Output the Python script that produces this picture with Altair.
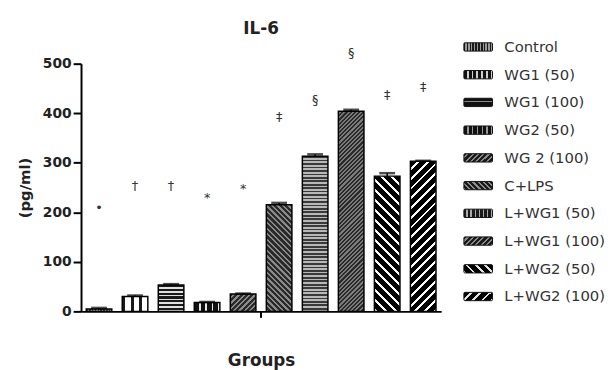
import math
import altair as alt
import pandas as pd

groups = ["Control", "WG1 (50)", "WG1 (100)", "WG2 (50)", "WG 2 (100)",
          "C+LPS", "L+WG1 (50)", "L+WG1 (100)", "L+WG2 (50)", "L+WG2 (100)"]
means = [5, 30, 53, 18, 35, 215, 313, 404, 273, 303]
errors = [2, 2, 2, 1, 1, 4, 4, 3, 6, 1]
symbols = ["•", "†", "†", "*", "*", "‡", "§", "§", "‡", "‡"]
symbol_y = [209, 253, 253, 229, 247, 392, 426, 522, 436, 452]
y_ticks = [0, 100, 200, 300, 400, 500]

W, H = 365, 251
YMAX = 500
P_IN = 0.29
STEP = W / 10
BAR_W = STEP * (1 - P_IN)
FONT = "DejaVu Sans"

# pattern look for bars: kind, ink colour, ground colour, period (px), ink fraction
patterns = [
    ("v", "#3a3a3a", "#9a9a9a", 3, 0.5),
    ("v", "#1a1a1a", "#ffffff", 8, 0.35),
    ("h", "#1a1a1a", "#e0e0e0", 4, 0.6),
    ("v", "#111111", "#e8e8e8", 6, 0.7),
    ("fs", "#2a2a2a", "#8a8a8a", 4, 0.55),
    ("bs", "#2a2a2a", "#8a8a8a", 4, 0.55),
    ("h", "#3a3a3a", "#b8b8b8", 3.5, 0.5),
    ("fs", "#2a2a2a", "#7a7a7a", 3, 0.5),
    ("bs", "#000000", "#ffffff", 7, 0.7),
    ("fs", "#000000", "#ffffff", 7, 0.7),
]
# legend swatch look (mostly dark with light marks)
leg_patterns = [
    ("v", "#1a1a1a", "#9a9a9a", 3, 0.5),
    ("v", "#111111", "#d0d0d0", 5, 0.6),
    ("h", "#111111", "#8a8a8a", 4, 0.75),
    ("v", "#111111", "#9a9a9a", 5, 0.7),
    ("fs", "#1a1a1a", "#8a8a8a", 4, 0.6),
    ("bs", "#1a1a1a", "#8a8a8a", 4, 0.6),
    ("v", "#1a1a1a", "#aaaaaa", 4, 0.6),
    ("fs", "#1a1a1a", "#8a8a8a", 4, 0.6),
    ("bs", "#000000", "#e0e0e0", 7, 0.7),
    ("fs", "#000000", "#e0e0e0", 7, 0.7),
]


def stripe_gradient(kind, a, b, period, frac, w, h):
    if kind == "h":
        x1, y1, x2, y2 = 0, 0, 0, 1
        extent = h
    elif kind == "v":
        x1, y1, x2, y2 = 0, 0, 1, 0
        extent = w
    else:
        u0 = w / h
        d = 1 + u0 * u0
        k = (1 + u0) / d
        if kind == "fs":
            x1, y1, x2, y2 = 0, 0, k * u0, k
        else:
            x1, y1, x2, y2 = 1, 0, 1 - k * u0, k
        extent = (w + h) / math.sqrt(2)
    n = max(1, round(extent / period))
    stops = []
    for i in range(n):
        o0 = i / n
        o1 = (i + frac) / n
        o2 = (i + 1) / n
        stops += [alt.GradientStop(offset=o0, color=a),
                  alt.GradientStop(offset=o1, color=a),
                  alt.GradientStop(offset=o1, color=b),
                  alt.GradientStop(offset=o2, color=b)]
    return alt.LinearGradient(gradient="linear", stops=stops,
                              x1=x1, y1=y1, x2=x2, y2=y2)


df = pd.DataFrame({"group": groups, "mean": means, "err": errors,
                   "sym": symbols, "sym_y": symbol_y})
df["hi"] = df["mean"] + df["err"]

x_axis = alt.Axis(title="Groups", labels=False, ticks=False, domain=True,
                  domainColor="black", domainWidth=2,
                  titleFont=FONT, titleFontSize=17, titleFontWeight="bold",
                  titleColor="#222", titlePadding=42)
x_enc = alt.X("group:N", sort=groups,
              scale=alt.Scale(domain=groups, paddingInner=P_IN, paddingOuter=P_IN / 2),
              axis=x_axis)
y_axis = alt.Axis(title="(pg/ml)", values=y_ticks, grid=False,
                  domainColor="black", domainWidth=2, tickColor="black",
                  tickWidth=2, tickSize=8, labelPadding=2,
                  labelFont=FONT, labelFontSize=14, labelFontWeight="bold",
                  labelColor="#222", titleFont=FONT, titleFontSize=15,
                  titleFontWeight="bold", titleColor="#222", titlePadding=10)
y_scale = alt.Scale(domain=[0, YMAX], nice=False)

base = alt.Chart(df)
layers = []
for i, g in enumerate(groups):
    kind, a, b, p, f = patterns[i]
    grad = stripe_gradient(kind, a, b, p, f, BAR_W, max(means[i] * H / YMAX, 1))
    layers.append(
        base.transform_filter(alt.datum.group == g)
        .mark_bar(fill=grad, stroke="black", strokeWidth=1.5)
        .encode(x=x_enc, y=alt.Y("mean:Q", scale=y_scale, axis=y_axis))
    )

err_rule = base.mark_rule(color="black", strokeWidth=1.5).encode(
    x=x_enc, y=alt.Y("mean:Q", scale=y_scale, axis=y_axis), y2="hi:Q")
err_cap = base.mark_tick(color="black", thickness=2.5, size=16).encode(
    x=x_enc, y=alt.Y("hi:Q", scale=y_scale, axis=y_axis))
sym_text = base.mark_text(font=FONT, fontSize=13, color="#333",
                          baseline="middle").encode(
    x=x_enc, y=alt.Y("sym_y:Q", scale=y_scale, axis=y_axis), text="sym:N")
center_tick = base.mark_rule(color="black", strokeWidth=1.5).encode(
    x=alt.value(W / 2), y=alt.value(H), y2=alt.value(H + 6))

main = alt.layer(*layers, err_rule, err_cap, sym_text, center_tick)

# legend, drawn as layers with their own row scale
SW, SH = 29, 8.5
LX = W + 23
leg_df = pd.DataFrame({"group": groups})
ly = alt.Y("group:N", sort=groups,
           scale=alt.Scale(domain=groups, range=[-31, 250],
                           paddingInner=0.7, paddingOuter=0.35),
           axis=None)
leg_layers = []
for i, g in enumerate(groups):
    kind, a, b, p, f = leg_patterns[i]
    grad = stripe_gradient(kind, a, b, p, f, SW, SH)
    leg_layers.append(
        alt.Chart(leg_df).transform_filter(alt.datum.group == g)
        .mark_rect(fill=grad, stroke="#111", strokeWidth=1, cornerRadius=1)
        .encode(x=alt.value(LX), x2=alt.value(LX + SW), y=ly)
    )
leg_text = alt.Chart(leg_df).mark_text(
    align="left", baseline="middle", font=FONT, fontSize=15, color="#333"
).encode(x=alt.value(LX + 41), y=ly, text="group:N")
legend = alt.layer(*leg_layers, leg_text)

chart = alt.layer(main, legend).resolve_scale(y="independent").properties(
    width=W, height=H,
    title=alt.Title("IL-6", font=FONT, fontSize=17, fontWeight="bold",
                    color="#222", anchor="middle", offset=2),
    padding={"left": 9, "top": 10, "right": 0, "bottom": 0},
).configure_view(stroke=None)

chart.save("out.html", embed_options={"renderer": "svg", "actions": False})
